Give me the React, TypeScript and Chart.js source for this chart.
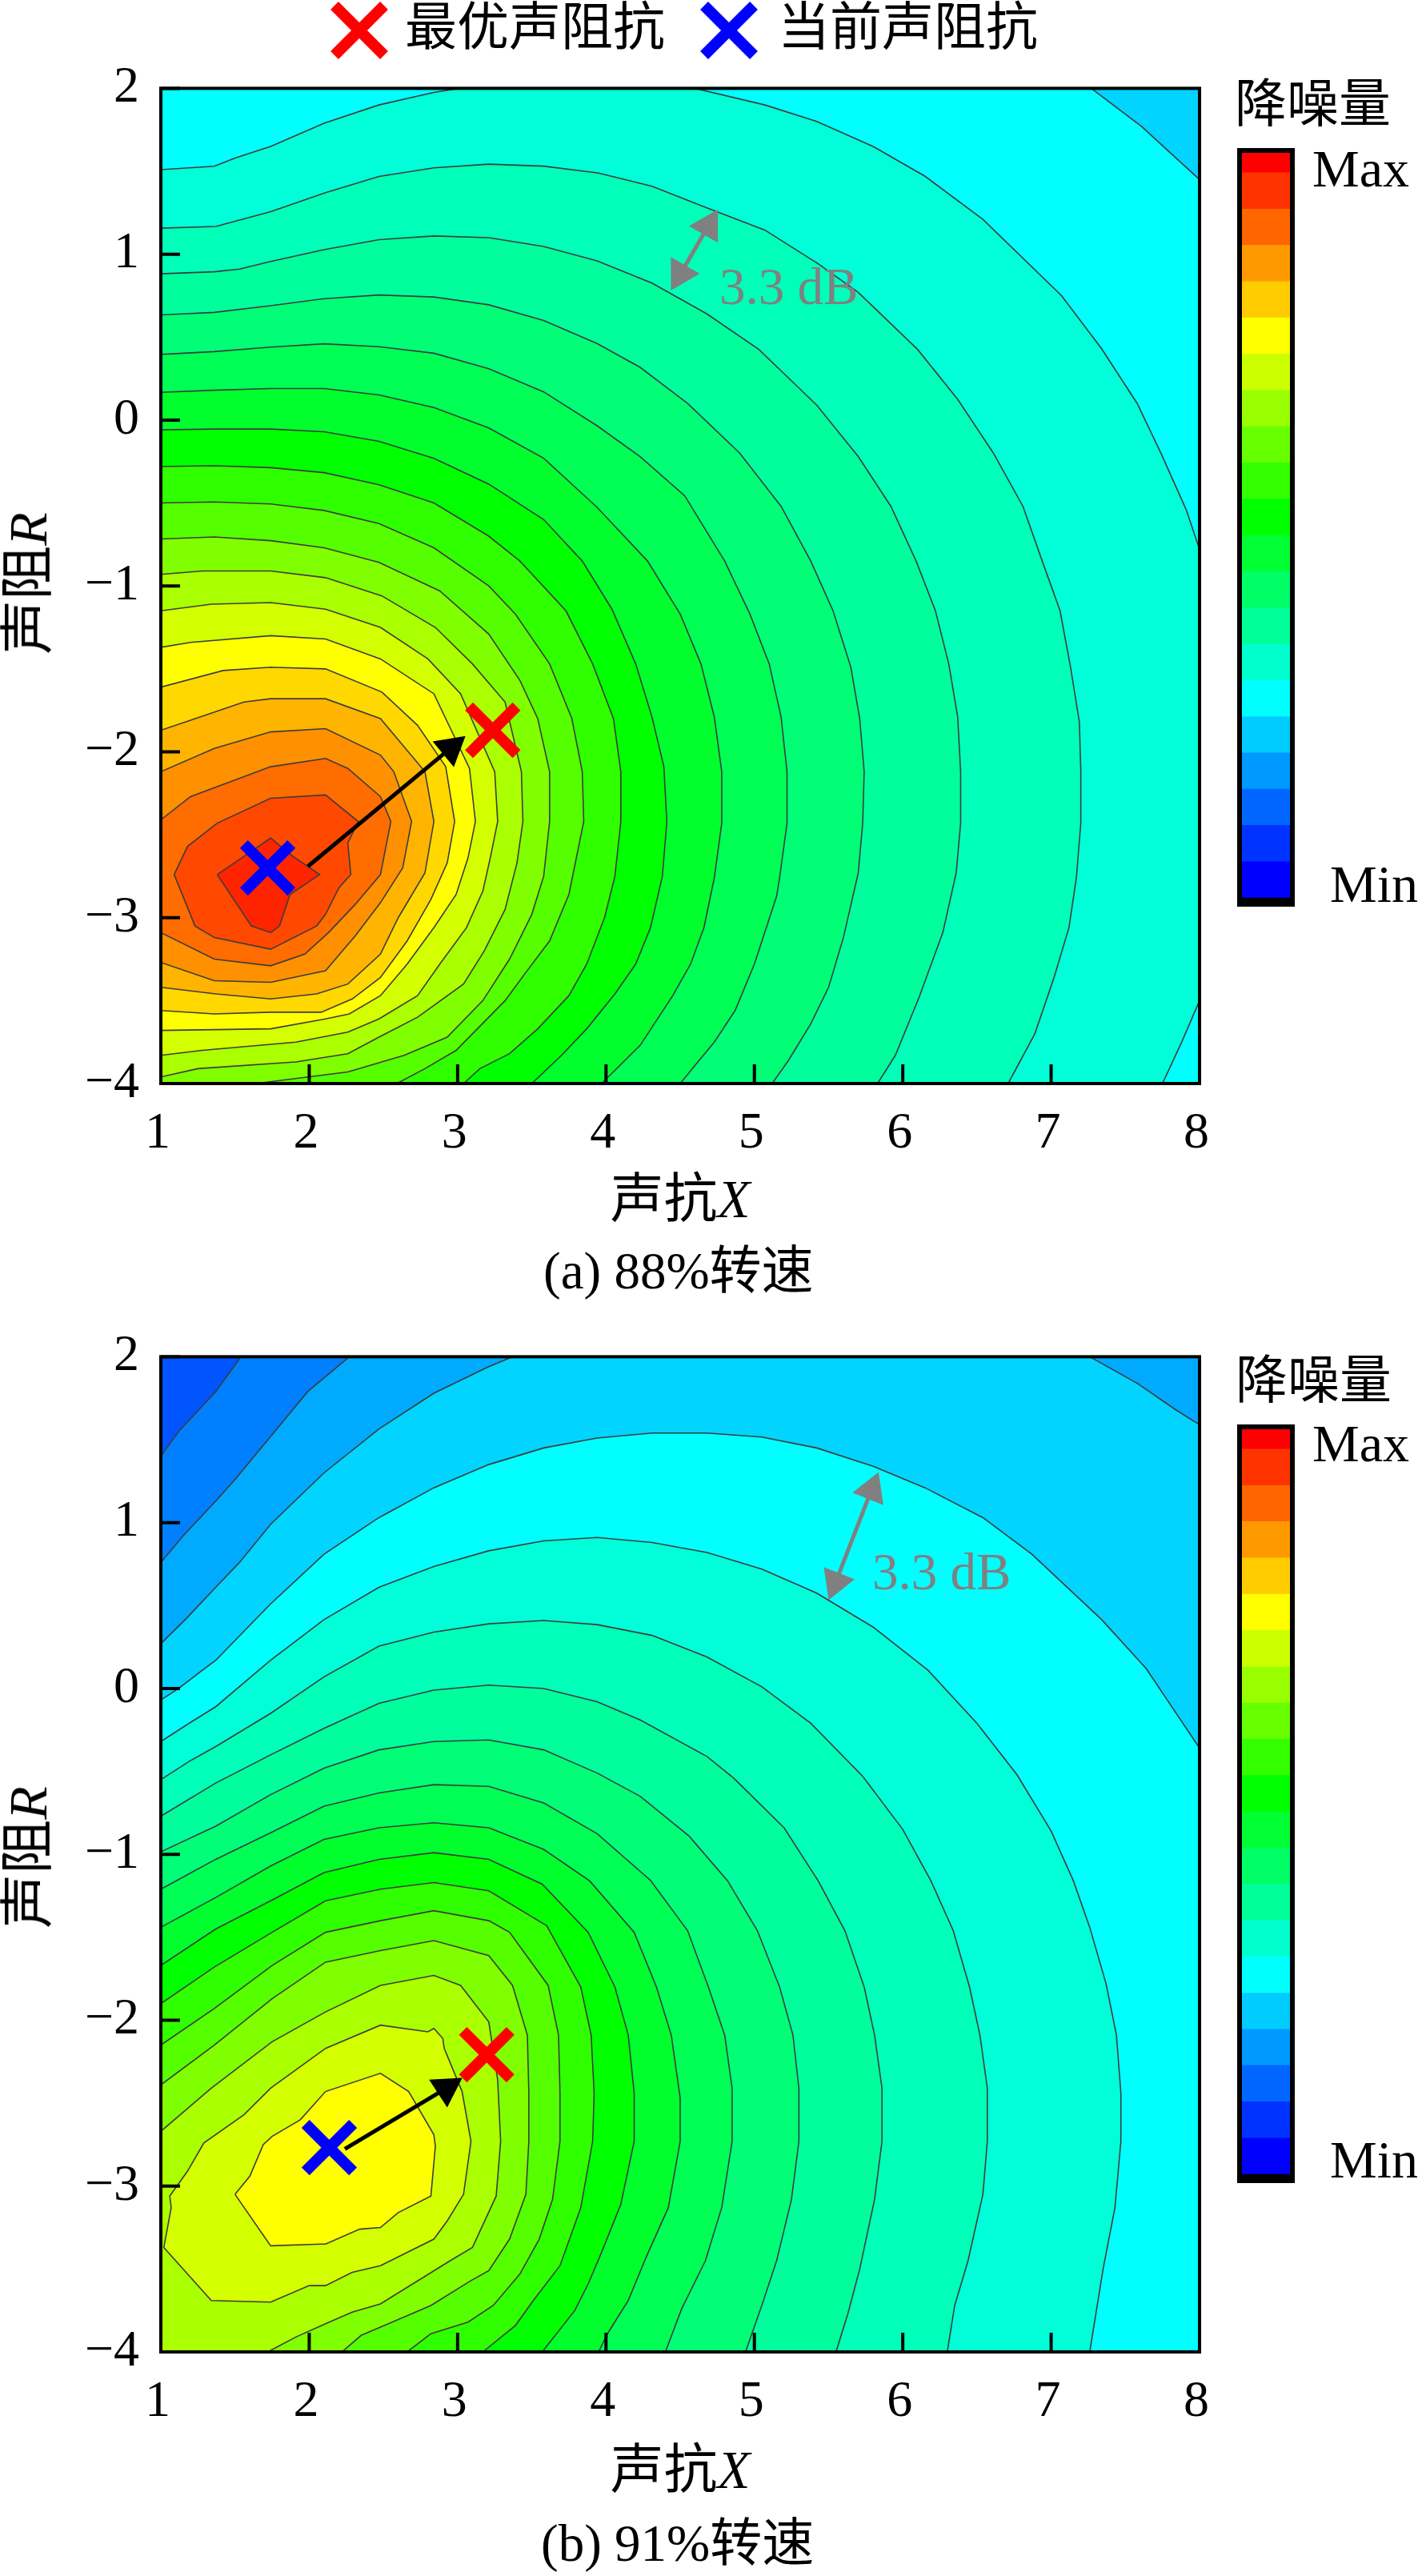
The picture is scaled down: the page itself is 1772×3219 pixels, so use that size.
import { useEffect, useRef } from "react";
import { Chart, registerables } from "chart.js";

Chart.register(...registerables);

type Pt = [number, number];

// band colours, low to high, shared by both contour maps
const bandColors = [
  "#0055ff", "#0080ff", "#00aaff", "#00d4ff", "#00ffff", "#00ffd8", "#00ffb8", "#00ff9c",
  "#00ff77", "#00ff55", "#00ff2d", "#00ff00", "#30ff00", "#55ff00", "#80ff00", "#aaff00",
  "#d4ff00", "#ffff00", "#ffd800", "#ffb400", "#ff9000", "#ff6c00", "#ff4800", "#ff2400",
];

// colour bar
const barEdges = [-0.11, 0, 1, 2, 3, 4, 5, 6, 7, 8, 9, 10, 11, 12, 13, 14, 15, 16, 17, 18, 19, 20, 20.55];
const barColors = [
  "#000000", "#0000ff", "#0033ff", "#0066ff", "#0099ff", "#00ccff", "#00ffff", "#00ffcc", "#00ff99",
  "#00ff66", "#00ff33", "#00ff00", "#33ff00", "#66ff00", "#99ff00", "#ccff00", "#ffff00", "#ffcc00",
  "#ff9900", "#ff6600", "#ff3300", "#ff0000",
];

// (a) 88% contours, outermost level first
const a00: Pt[] = [[1, 2], [8, 2], [8, -4], [1, -4]];
const a01: Pt[] = [[1, 2], [7.27, 2], [7.61, 1.77], [7.78, 1.63], [8, 1.45], [8, -4], [1, -4]];
const a02: Pt[] = [[1, 1.51], [1.36, 1.53], [1.5, 1.58], [1.74, 1.65], [2.1, 1.79], [2.47, 1.9], [2.84, 1.975], [3.01, 2], [4.6, 2], [5.07, 1.9], [5.42, 1.8], [5.8, 1.65], [6.15, 1.47], [6.54, 1.21], [7.07, 0.75], [7.34, 0.43], [7.58, 0.1], [7.74, -0.2], [7.91, -0.54], [8, -0.78], [8, -3.5], [7.88, -3.75], [7.75, -4], [1, -4]];
const a03: Pt[] = [[1, 1.157], [1.37, 1.167], [1.74, 1.256], [2.11, 1.371], [2.47, 1.469], [2.84, 1.521], [3.21, 1.543], [3.58, 1.531], [3.95, 1.489], [4.31, 1.41], [4.68, 1.28], [5.07, 1.146], [5.43, 0.942], [5.7, 0.77], [6.1, 0.426], [6.37, 0.125], [6.61, -0.198], [6.81, -0.52], [6.94, -0.85], [7.06, -1.15], [7.13, -1.486], [7.19, -1.82], [7.2, -2.12], [7.2, -2.43], [7.17, -2.76], [7.12, -3.06], [7.02, -3.36], [6.89, -3.7], [6.71, -4], [1, -4]];
const a04: Pt[] = [[1, 0.882], [1.36, 0.894], [1.53, 0.91], [1.74, 0.956], [2.1, 1.027], [2.47, 1.088], [2.84, 1.11], [3.21, 1.1], [3.58, 1.047], [3.94, 0.96], [4.31, 0.826], [4.68, 0.64], [5.03, 0.426], [5.42, 0.09], [5.7, -0.22], [5.92, -0.52], [6.09, -0.85], [6.22, -1.15], [6.31, -1.47], [6.37, -1.79], [6.39, -2.12], [6.39, -2.43], [6.36, -2.73], [6.27, -3.09], [6.11, -3.48], [5.95, -3.83], [5.83, -4], [1, -4]];
const a05: Pt[] = [[1, 0.634], [1.36, 0.649], [1.74, 0.69], [2.1, 0.732], [2.47, 0.754], [2.84, 0.742], [3.21, 0.695], [3.58, 0.6], [3.94, 0.462], [4.23, 0.318], [4.55, 0.1], [4.9, -0.198], [5.18, -0.52], [5.38, -0.85], [5.53, -1.15], [5.65, -1.49], [5.71, -1.8], [5.74, -2.12], [5.73, -2.43], [5.7, -2.73], [5.6, -3.12], [5.5, -3.42], [5.38, -3.64], [5.23, -3.86], [5.12, -4], [1, -4]];
const a06: Pt[] = [[1, 0.396], [1.36, 0.413], [1.74, 0.44], [2.1, 0.46], [2.47, 0.442], [2.84, 0.403], [3.21, 0.31], [3.58, 0.17], [3.94, -0.034], [4.23, -0.22], [4.53, -0.456], [4.8, -0.85], [4.97, -1.17], [5.1, -1.47], [5.18, -1.79], [5.22, -2.12], [5.22, -2.43], [5.17, -2.76], [5.15, -2.87], [5, -3.28], [4.87, -3.56], [4.73, -3.75], [4.6, -3.89], [4.5, -4], [1, -4]];
const a07: Pt[] = [[1, 0.167], [1.36, 0.18], [1.74, 0.19], [2.1, 0.19], [2.47, 0.152], [2.84, 0.076], [3.21, -0.047], [3.58, -0.23], [3.94, -0.526], [4.28, -0.85], [4.5, -1.17], [4.64, -1.47], [4.73, -1.79], [4.78, -2.12], [4.78, -2.43], [4.73, -2.76], [4.66, -3.06], [4.57, -3.28], [4.45, -3.47], [4.23, -3.77], [3.97, -4], [1, -4]];
const a08: Pt[] = [[1, -0.059], [1.36, -0.054], [1.74, -0.054], [2.1, -0.07], [2.47, -0.128], [2.84, -0.231], [3.21, -0.386], [3.58, -0.6], [3.84, -0.85], [4.04, -1.14], [4.2, -1.47], [4.31, -1.79], [4.39, -2.09], [4.41, -2.42], [4.38, -2.75], [4.3, -3.06], [4.2, -3.28], [4.06, -3.46], [3.87, -3.67], [3.7, -3.83], [3.5, -4], [1, -4]];
const a09: Pt[] = [[1, -0.28], [1.36, -0.275], [1.74, -0.287], [2.1, -0.317], [2.47, -0.39], [2.84, -0.5], [3.21, -0.7], [3.42, -0.85], [3.73, -1.15], [3.91, -1.47], [4.05, -1.8], [4.1, -2.12], [4.1, -2.42], [4.06, -2.75], [3.99, -3], [3.87, -3.28], [3.75, -3.47], [3.54, -3.67], [3.35, -3.82], [3.15, -3.91], [3.04, -4], [1, -4]];
const a10: Pt[] = [[1, -0.5], [1.36, -0.494], [1.74, -0.506], [2.1, -0.545], [2.47, -0.624], [2.84, -0.77], [3.21, -1], [3.39, -1.17], [3.62, -1.47], [3.77, -1.8], [3.84, -2.12], [3.85, -2.42], [3.75, -2.86], [3.62, -3.14], [3.46, -3.33], [3.32, -3.5], [2.99, -3.8], [2.78, -3.91], [2.59, -4], [1, -4]];
const a11: Pt[] = [[1, -0.717], [1.36, -0.705], [1.74, -0.727], [2.1, -0.77], [2.47, -0.858], [2.88, -1.03], [3.21, -1.29], [3.42, -1.57], [3.54, -1.8], [3.62, -2.12], [3.62, -2.42], [3.58, -2.75], [3.5, -2.98], [3.35, -3.25], [3.17, -3.5], [2.93, -3.72], [2.64, -3.83], [2.26, -3.93], [1.64, -4], [1, -4]];
const a12: Pt[] = [[1, -0.93], [1.28, -0.91], [1.74, -0.91], [2.11, -0.95], [2.49, -1.06], [2.85, -1.25], [3.1, -1.47], [3.32, -1.7], [3.43, -2.12], [3.44, -2.42], [3.4, -2.67], [3.32, -2.95], [3.18, -3.2], [3.04, -3.4], [2.73, -3.6], [2.47, -3.72], [2.26, -3.82], [1.91, -3.87], [1.25, -3.91], [1, -3.96]];
const a13: Pt[] = [[1, -1.15], [1.34, -1.11], [1.74, -1.1], [2.11, -1.14], [2.48, -1.25], [2.8, -1.44], [3.02, -1.65], [3.25, -2.12], [3.27, -2.42], [3.22, -2.64], [3.17, -2.84], [3.06, -3.06], [2.88, -3.28], [2.73, -3.47], [2.47, -3.61], [2.26, -3.69], [1.91, -3.75], [1.28, -3.8], [1, -3.83]];
const a14: Pt[] = [[1, -1.37], [1.2, -1.34], [1.74, -1.3], [2.11, -1.32], [2.48, -1.44], [2.84, -1.65], [3.08, -2.1], [3.12, -2.42], [3.07, -2.64], [2.99, -2.86], [2.84, -3.06], [2.66, -3.28], [2.48, -3.47], [2.27, -3.58], [2.11, -3.61], [1.74, -3.67], [1, -3.68]];
const a15: Pt[] = [[1, -1.61], [1.42, -1.51], [1.74, -1.49], [2.11, -1.5], [2.49, -1.64], [2.73, -1.84], [2.92, -2.09], [2.98, -2.42], [2.93, -2.67], [2.82, -2.89], [2.66, -3.14], [2.48, -3.36], [2.29, -3.49], [2.08, -3.57], [1.74, -3.57], [1.36, -3.58], [1, -3.56]];
const a16: Pt[] = [[1, -1.87], [1.2, -1.81], [1.56, -1.7], [1.74, -1.68], [2.11, -1.68], [2.48, -1.8], [2.78, -2.12], [2.84, -2.42], [2.78, -2.73], [2.6, -3], [2.48, -3.22], [2.26, -3.4], [2.05, -3.46], [1.74, -3.49], [1.37, -3.46], [1, -3.42]];
const a17: Pt[] = [[1, -2.12], [1.36, -1.98], [1.74, -1.88], [2.11, -1.86], [2.48, -2.02], [2.57, -2.12], [2.69, -2.42], [2.63, -2.7], [2.48, -2.91], [2.31, -3.11], [2.11, -3.32], [1.74, -3.39], [1.36, -3.38], [1, -3.27]];
const a18: Pt[] = [[1, -2.41], [1.2, -2.27], [1.74, -2.09], [2.11, -2.04], [2.26, -2.1], [2.48, -2.27], [2.55, -2.42], [2.48, -2.74], [2.31, -2.92], [2.13, -3.09], [1.97, -3.22], [1.74, -3.29], [1.36, -3.25], [1, -3.09]];
const a19: Pt[] = [[1.09, -2.74], [1.18, -2.57], [1.38, -2.43], [1.74, -2.28], [2.11, -2.26], [2.33, -2.42], [2.26, -2.55], [2.28, -2.74], [2.2, -2.82], [2.11, -2.98], [2.05, -3.05], [1.74, -3.19], [1.36, -3.12], [1.23, -3.05]];
const a20: Pt[] = [[1.38, -2.74], [1.56, -2.63], [1.74, -2.52], [1.89, -2.63], [2.07, -2.74], [1.87, -2.86], [1.8, -3.05], [1.74, -3.09], [1.61, -3.05]];
const contoursA = [a00, a01, a02, a03, a04, a05, a06, a07, a08, a09, a10, a11, a12, a13, a14, a15, a16, a17, a18, a19, a20];

// (b) 91% contours
const b00: Pt[] = [[1, 2], [8, 2], [8, -4], [1, -4]];
const b01: Pt[] = [[1, 1.4], [1.12, 1.55], [1.37, 1.79], [1.54, 2], [8, 2], [8, -4], [1, -4]];
const b02: Pt[] = [[1, 0.76], [1.15, 0.92], [1.37, 1.13], [1.5, 1.26], [1.74, 1.52], [1.99, 1.79], [2.27, 2], [8, 2], [8, -4], [1, -4]];
const b03: Pt[] = [[1, 0.27], [1.17, 0.42], [1.37, 0.61], [1.53, 0.76], [1.74, 0.99], [2.1, 1.3], [2.47, 1.565], [2.84, 1.78], [3.21, 1.94], [3.37, 2], [7.26, 2], [7.58, 1.84], [7.84, 1.68], [8, 1.59], [8, -4], [1, -4]];
const b04: Pt[] = [[1, -0.07], [1.12, 0], [1.28, 0.11], [1.37, 0.17], [1.62, 0.4], [1.74, 0.51], [2.1, 0.81], [2.47, 1.03], [2.84, 1.21], [3.21, 1.35], [3.58, 1.45], [3.94, 1.51], [4.31, 1.54], [4.68, 1.54], [5.05, 1.516], [5.42, 1.45], [5.8, 1.34], [6.15, 1.21], [6.54, 1.03], [6.87, 0.81], [7.34, 0.415], [7.64, 0.12], [7.88, -0.2], [8, -0.36], [8, -4], [1, -4]];
const b05: Pt[] = [[1, -0.32], [1.19, -0.21], [1.37, -0.11], [1.62, 0.08], [1.74, 0.17], [2.1, 0.415], [2.47, 0.61], [2.84, 0.735], [3.21, 0.83], [3.58, 0.89], [3.94, 0.91], [4.31, 0.88], [4.68, 0.82], [5.05, 0.72], [5.42, 0.575], [5.8, 0.37], [6.17, 0.11], [6.5, -0.21], [6.77, -0.52], [7, -0.86], [7.15, -1.16], [7.26, -1.44], [7.37, -1.78], [7.44, -2.09], [7.47, -2.44], [7.47, -2.73], [7.43, -3.13], [7.35, -3.5], [7.26, -4], [1, -4]];
const b06: Pt[] = [[1, -0.55], [1.19, -0.44], [1.37, -0.35], [1.74, -0.15], [2.1, 0.07], [2.47, 0.255], [2.84, 0.34], [3.21, 0.39], [3.58, 0.41], [3.94, 0.385], [4.31, 0.32], [4.68, 0.19], [5.05, 0.01], [5.38, -0.21], [5.73, -0.53], [6, -0.85], [6.19, -1.16], [6.34, -1.46], [6.45, -1.8], [6.52, -2.09], [6.57, -2.41], [6.57, -2.73], [6.54, -3.05], [6.44, -3.45], [6.35, -3.72], [6.3, -4], [1, -4]];
const b07: Pt[] = [[1, -0.77], [1.37, -0.57], [1.74, -0.4], [2.1, -0.24], [2.47, -0.09], [2.84, -0.01], [3.21, 0.02], [3.58, 0], [3.94, -0.08], [4.23, -0.19], [4.68, -0.41], [4.86, -0.54], [5.2, -0.84], [5.43, -1.16], [5.61, -1.46], [5.74, -1.8], [5.81, -2.09], [5.86, -2.41], [5.86, -2.73], [5.81, -3.08], [5.71, -3.5], [5.63, -3.77], [5.55, -4], [1, -4]];
const b08: Pt[] = [[1, -0.985], [1.37, -0.83], [1.74, -0.64], [2.1, -0.48], [2.47, -0.37], [2.84, -0.32], [3.21, -0.31], [3.58, -0.37], [3.94, -0.51], [4.23, -0.65], [4.56, -0.89], [4.82, -1.16], [5.02, -1.46], [5.17, -1.8], [5.26, -2.09], [5.3, -2.41], [5.3, -2.73], [5.25, -3.08], [5.15, -3.45], [5.05, -3.72], [4.94, -4], [1, -4]];
const b09: Pt[] = [[1, -1.21], [1.37, -1.03], [1.74, -0.87], [2.1, -0.71], [2.47, -0.63], [2.84, -0.58], [3.21, -0.59], [3.58, -0.69], [3.94, -0.875], [4.3, -1.157], [4.55, -1.46], [4.69, -1.8], [4.8, -2.09], [4.85, -2.41], [4.85, -2.73], [4.78, -3.13], [4.67, -3.45], [4.51, -3.74], [4.4, -4], [1, -4]];
const b10: Pt[] = [[1, -1.44], [1.37, -1.26], [1.74, -1.07], [2.1, -0.91], [2.47, -0.84], [2.84, -0.81], [3.21, -0.84], [3.58, -0.97], [3.89, -1.16], [4.19, -1.47], [4.34, -1.8], [4.44, -2.09], [4.5, -2.47], [4.5, -2.73], [4.42, -3.13], [4.27, -3.43], [4.15, -3.69], [4.01, -3.89], [3.95, -4], [1, -4]];
const b11: Pt[] = [[1, -1.67], [1.37, -1.45], [1.74, -1.28], [2.1, -1.11], [2.47, -1.03], [2.84, -0.99], [3.21, -1.03], [3.57, -1.18], [3.88, -1.47], [4.06, -1.8], [4.15, -2.09], [4.19, -2.44], [4.19, -2.73], [4.1, -3.11], [3.97, -3.4], [3.88, -3.59], [3.79, -3.75], [3.57, -4], [1, -4]];
const b12: Pt[] = [[1, -1.9], [1.36, -1.68], [1.75, -1.47], [2.11, -1.28], [2.48, -1.21], [2.84, -1.17], [3.21, -1.22], [3.6, -1.43], [3.83, -1.8], [3.9, -2.09], [3.92, -2.44], [3.91, -2.73], [3.83, -3.13], [3.69, -3.48], [3.51, -3.69], [3.39, -3.84], [3.17, -4], [1, -4]];
const b13: Pt[] = [[1, -2.15], [1.36, -1.93], [1.75, -1.67], [2.11, -1.47], [2.48, -1.4], [2.84, -1.34], [3.21, -1.4], [3.35, -1.47], [3.61, -1.79], [3.68, -2.09], [3.69, -2.44], [3.69, -2.73], [3.64, -3.08], [3.55, -3.32], [3.42, -3.53], [3.24, -3.72], [3.07, -3.82], [2.82, -3.89], [2.66, -4], [1, -4]];
const b14: Pt[] = [[1, -2.39], [1.36, -2.15], [1.75, -1.87], [2.11, -1.65], [2.48, -1.58], [2.84, -1.52], [3.21, -1.61], [3.37, -1.79], [3.47, -2.09], [3.48, -2.44], [3.48, -2.73], [3.46, -3.05], [3.35, -3.32], [3.21, -3.51], [3.09, -3.57], [2.82, -3.72], [2.48, -3.85], [2.35, -3.9], [2.22, -4], [1, -4]];
const b15: Pt[] = [[1, -2.67], [1.34, -2.41], [1.75, -2.13], [2.11, -1.95], [2.48, -1.79], [2.84, -1.73], [3.02, -1.79], [3.21, -2.01], [3.27, -2.36], [3.29, -2.73], [3.26, -3.06], [3.1, -3.37], [2.95, -3.45], [2.48, -3.71], [2.29, -3.76], [2.11, -3.83], [1.91, -3.91], [1.72, -4], [1, -4]];
const b16: Pt[] = [[1.06, -3.06], [1.18, -2.91], [1.29, -2.74], [1.56, -2.57], [1.74, -2.41], [2.11, -2.17], [2.48, -2.03], [2.8, -2.07], [2.84, -2.05], [2.9, -2.11], [2.91, -2.17], [3.03, -2.43], [3.09, -2.73], [3.04, -3.05], [2.93, -3.21], [2.84, -3.32], [2.48, -3.48], [2.29, -3.52], [2.11, -3.6], [2, -3.6], [1.74, -3.7], [1.34, -3.69], [1.02, -3.37], [1.07, -3.13]];
const b17: Pt[] = [[1.5, -3.05], [1.6, -2.94], [1.69, -2.75], [1.75, -2.7], [1.94, -2.6], [2.11, -2.43], [2.48, -2.32], [2.67, -2.43], [2.84, -2.69], [2.85, -2.76], [2.82, -3.06], [2.6, -3.16], [2.48, -3.25], [2.34, -3.26], [2.11, -3.35], [2.08, -3.35], [1.74, -3.36]];
const contoursB = [b00, b01, b02, b03, b04, b05, b06, b07, b08, b09, b10, b11, b12, b13, b14, b15, b16, b17];

// markers and arrows
const optimalA: Pt = [3.237, -1.87];
const currentA: Pt = [1.72, -2.7];
const optimalB: Pt = [3.196, -2.208];
const currentB: Pt = [2.135, -2.768];
const moveArrowA: Pt[] = [[1.992, -2.69], [2.953, -1.978]];
const moveArrowB: Pt[] = [[2.24, -2.776], [2.923, -2.411]];
const gapArrowA: Pt[] = [[4.689, 1.17], [4.502, 0.882]];
const gapArrowB: Pt[] = [[5.789, 1.197], [5.548, 0.641]];

const FONT = '"Liberation Serif", "Noto Sans CJK SC", serif';

const toXY = (pts: Pt[]) => pts.map(([x, y]) => ({ x, y }));

// black frame and inward tick marks, on top of the contours
const framePlugin = {
  id: "frame",
  afterDraw(chart: Chart) {
    const { ctx, chartArea: a, scales } = chart;
    ctx.save();
    ctx.strokeStyle = "#000";
    ctx.lineWidth = 4;
    ctx.strokeRect(a.left, a.top, a.right - a.left, a.bottom - a.top);
    ctx.beginPath();
    scales.x.ticks.forEach((t) => {
      const px = scales.x.getPixelForValue(t.value);
      ctx.moveTo(px, a.bottom);
      ctx.lineTo(px, a.bottom - 24);
    });
    scales.y.ticks.forEach((t) => {
      const py = scales.y.getPixelForValue(t.value);
      ctx.moveTo(a.left, py);
      ctx.lineTo(a.left + 24, py);
    });
    ctx.stroke();
    ctx.restore();
  },
};

// fixed axis size, so the tick labels do not push the plot area in
const fixAxis = (s: any, size: number) => {
  if (s.isHorizontal()) s.height = size;
  else s.width = size;
};

type MapProps = {
  top: number;
  contours: Pt[][];
  firstBand: number;
  optimal: Pt;
  current: Pt;
  moveArrow: Pt[];
  moveAngle: number;
  gapArrow: Pt[];
  gapAngle: number;
};

function ContourMap({ top, contours, firstBand, optimal, current, moveArrow, moveAngle, gapArrow, gapAngle }: MapProps) {
  const ref = useRef<HTMLCanvasElement>(null);

  useEffect(() => {
    if (!ref.current) return;

    const marker = (p: Pt, color: string) => ({
      data: toXY([p]),
      pointStyle: "crossRot",
      pointRadius: 42,
      pointBorderWidth: 14,
      pointBorderColor: color,
      showLine: false,
    });

    const fills = contours
      .map((pts, i) => ({
        data: toXY([...pts, pts[0]]),
        showLine: true,
        fill: "shape",
        backgroundColor: bandColors[firstBand + i],
        borderColor: "#3c3c3c",
        borderWidth: 1.6,
        pointRadius: 0,
      }))
      .reverse();

    const chart = new Chart(ref.current, {
      type: "scatter",
      data: {
        datasets: [
          marker(current, "#0000ff"),
          marker(optimal, "#ff0000"),
          {
            data: toXY(moveArrow),
            showLine: true,
            borderColor: "#000",
            borderWidth: 5,
            pointStyle: "triangle",
            pointRadius: [0, 24],
            pointRotation: [0, moveAngle],
            pointBackgroundColor: "#000",
            pointBorderColor: "#000",
            pointBorderWidth: 0,
          },
          {
            data: toXY(gapArrow),
            showLine: true,
            borderColor: "#808080",
            borderWidth: 5,
            pointStyle: "triangle",
            pointRadius: 24,
            pointRotation: [gapAngle, gapAngle + 180],
            pointBackgroundColor: "#808080",
            pointBorderColor: "#808080",
            pointBorderWidth: 0,
          },
          ...fills,
        ] as any,
      },
      options: {
        responsive: false,
        animation: false,
        devicePixelRatio: 1,
        layout: { autoPadding: false, padding: { left: 0, right: 41, top: 48, bottom: 26 } },
        plugins: { legend: { display: false }, tooltip: { enabled: false } },
        scales: {
          x: {
            type: "linear",
            min: 1,
            max: 8,
            afterFit: (s: any) => fixAxis(s, 100),
            border: { display: false },
            grid: { drawOnChartArea: false, drawTicks: false },
            ticks: { stepSize: 1, padding: 25, labelOffset: -4, maxRotation: 0, color: "#000", font: { family: FONT, size: 64 } },
          },
          y: {
            type: "linear",
            min: -4,
            max: 2,
            afterFit: (s: any) => fixAxis(s, 201),
            border: { display: false },
            grid: { drawOnChartArea: false, drawTicks: false },
            ticks: {
              stepSize: 1,
              padding: 27,
              color: "#000",
              font: { family: FONT, size: 64 },
              callback: (v: any) => (v < 0 ? "\u2212" + Math.abs(v) : String(v)),
            },
          },
        },
      } as any,
      plugins: [framePlugin],
    });

    return () => chart.destroy();
  }, []);

  return <canvas ref={ref} width={1540} height={1435} style={{ position: "absolute", left: 0, top, width: 1540, height: 1435 }} />;
}

function ColorBar({ top }: { top: number }) {
  const ref = useRef<HTMLCanvasElement>(null);

  useEffect(() => {
    if (!ref.current) return;
    const chart = new Chart(ref.current, {
      type: "bar",
      data: {
        labels: ["降噪量"],
        datasets: barColors.map((c, i) => ({
          data: [[barEdges[i], barEdges[i + 1]]],
          backgroundColor: c,
          grouped: false,
          barPercentage: 1,
          categoryPercentage: 1,
        })) as any,
      },
      options: {
        responsive: false,
        animation: false,
        devicePixelRatio: 1,
        layout: { padding: 6 },
        plugins: { legend: { display: false }, tooltip: { enabled: false } },
        scales: {
          x: { display: false },
          y: { display: false, min: -0.11, max: 20.55 },
        },
      } as any,
      plugins: [
        {
          id: "barFrame",
          afterDraw(c: Chart) {
            const { ctx, chartArea: a } = c;
            ctx.save();
            ctx.strokeStyle = "#000";
            ctx.lineWidth = 6;
            ctx.strokeRect(a.left - 3, a.top - 3, a.right - a.left + 6, a.bottom - a.top + 6);
            ctx.restore();
          },
        },
      ],
    });
    return () => chart.destroy();
  }, []);

  return <canvas ref={ref} width={72} height={948} style={{ position: "absolute", left: 1546, top, width: 72, height: 948 }} />;
}

type LabelProps = {
  x: number;
  base: number;
  size?: number;
  color?: string;
  center?: boolean;
  children: React.ReactNode;
};

// x is the left edge (or the centre), base the text baseline
function Label({ x, base, size = 65, color = "#000", center, children }: LabelProps) {
  return (
    <div
      style={{
        position: "absolute",
        left: x,
        top: base - 0.84 * size,
        fontFamily: FONT,
        fontSize: size,
        lineHeight: 1,
        color,
        whiteSpace: "nowrap",
        transform: center ? "translateX(-50%)" : undefined,
      }}
    >
      {children}
    </div>
  );
}

function YTitle({ y }: { y: number }) {
  return (
    <div
      style={{
        position: "absolute",
        left: 35,
        top: y,
        fontFamily: FONT,
        fontSize: 68,
        lineHeight: 1,
        whiteSpace: "nowrap",
        transform: "translate(-50%, -50%) rotate(-90deg)",
      }}
    >
      声阻<i>R</i>
    </div>
  );
}

function LegendCross({ x, color }: { x: number; color: string }) {
  return (
    <svg width={72} height={72} style={{ position: "absolute", left: x - 36, top: 2 }}>
      <path d="M5 5L67 67M67 5L5 67" stroke={color} strokeWidth={14} fill="none" />
    </svg>
  );
}

export default function App() {
  return (
    <div style={{ position: "absolute", left: 0, top: 0, width: 1772, height: 3219, background: "#fff", overflow: "hidden" }}>
      <ContourMap
        top={45}
        contours={contoursA}
        firstBand={3}
        optimal={optimalA}
        current={currentA}
        moveArrow={moveArrowA}
        moveAngle={50.5}
        gapArrow={gapArrowA}
        gapAngle={30}
      />
      <ContourMap
        top={1630}
        contours={contoursB}
        firstBand={0}
        optimal={optimalB}
        current={currentB}
        moveArrow={moveArrowB}
        moveAngle={57}
        gapArrow={gapArrowB}
        gapAngle={21.6}
      />
      <ColorBar top={185} />
      <ColorBar top={1780} />

      <LegendCross x={449} color="#ff0000" />
      <Label x={506} base={57}>最优声阻抗</Label>
      <LegendCross x={911} color="#0000ff" />
      <Label x={972} base={57}>当前声阻抗</Label>

      <Label x={1543} base={153}>降噪量</Label>
      <Label x={1640} base={233} size={66}>Max</Label>
      <Label x={1662} base={1127} size={66}>Min</Label>
      <Label x={899} base={381} color="#808080">3.3 dB</Label>
      <YTitle y={729} />
      <Label x={850} base={1521} size={67} center>声抗<i>X</i></Label>
      <Label x={679} base={1611}>(a) 88%转速</Label>

      <Label x={1544} base={1748}>降噪量</Label>
      <Label x={1640} base={1826} size={66}>Max</Label>
      <Label x={1662} base={2721} size={66}>Min</Label>
      <Label x={1090} base={1987} color="#808080">3.3 dB</Label>
      <YTitle y={2321} />
      <Label x={850} base={3109} size={67} center>声抗<i>X</i></Label>
      <Label x={676} base={3201}>(b) 91%转速</Label>
    </div>
  );
}
